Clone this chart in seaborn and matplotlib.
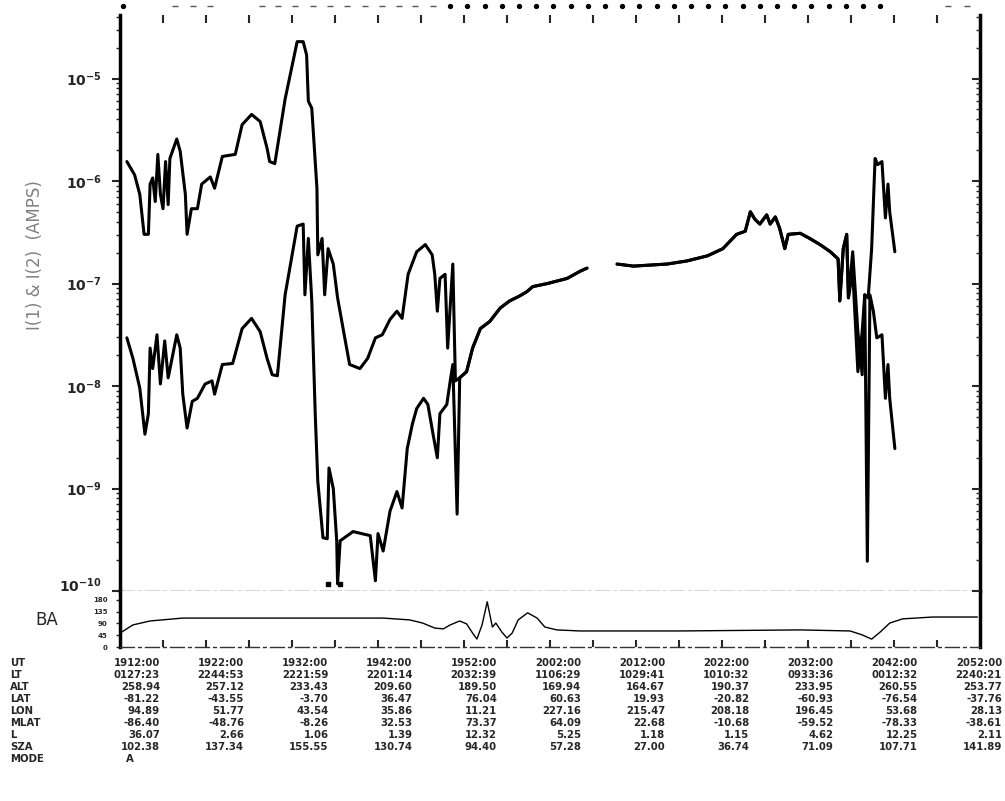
import numpy as np
import pandas as pd
import matplotlib
matplotlib.use("Agg")
import matplotlib.pyplot as plt
import matplotlib.transforms as mtransforms
from matplotlib.ticker import LogLocator, NullFormatter
import seaborn as sns

sns.set_style("white")
plt.rcParams["font.family"] = ["DejaVu Sans"]

# ---------------- data (time in minutes after 1912:00 UT, current as log10 amps) -------------
upper_a_t = [0.8, 1.7, 2.3, 2.8, 3.3, 3.5, 3.8, 4.1, 4.4, 4.7, 5.0, 5.3, 5.6, 5.8, 6.6, 7.0, 7.6,
             7.8, 8.3, 9.0, 9.5, 10.5, 11.0, 11.9, 13.4, 14.2, 15.3, 16.3, 17.1, 17.4, 18.0, 19.2,
             20.6, 21.3, 21.7, 21.9, 22.3, 22.9, 23.0, 23.5, 23.8, 24.2, 24.8, 25.3, 26.2, 26.7,
             27.9, 28.8, 29.7, 30.5, 31.4, 32.2, 32.8, 33.5, 34.5, 35.5, 36.3, 36.6, 36.9, 37.2,
             37.8, 38.1, 38.7, 39.0]
upper_a_exp = [-5.81, -5.94, -6.13, -6.52, -6.52, -6.03, -5.97, -6.20, -5.74, -6.13, -6.27, -5.81,
               -6.23, -5.78, -5.59, -5.71, -6.13, -6.52, -6.27, -6.27, -6.03, -5.96, -6.07, -5.76,
               -5.74, -5.45, -5.35, -5.42, -5.68, -5.81, -5.83, -5.20, -4.64, -4.64, -4.77, -5.22,
               -5.29, -6.07, -6.72, -6.56, -7.11, -6.66, -6.81, -7.14, -7.56, -7.79, -7.83, -7.73,
               -7.53, -7.50, -7.35, -7.27, -7.34, -6.91, -6.69, -6.62, -6.72, -6.91, -7.27, -6.95,
               -6.91, -7.63, -6.81, -7.95]

lower_a_t = [0.8, 1.5, 2.3, 2.9, 3.3, 3.5, 3.8, 4.3, 4.7, 5.2, 5.6, 6.6, 7.0, 7.3, 7.8, 8.4, 9.0,
             9.9, 10.7, 11.0, 11.9, 13.1, 14.2, 15.3, 16.3, 17.1, 17.7, 18.3, 19.2, 20.6, 21.3,
             21.5, 21.9, 22.3, 22.7, 23.0, 23.6, 24.1, 24.3, 24.8, 25.2, 25.3, 25.6, 27.1, 29.1,
             29.7, 30.0, 30.6, 31.4, 32.2, 32.8, 33.4, 34.0, 34.5, 35.3, 35.8, 36.4, 36.9, 37.2,
             38.0, 38.4, 38.7, 39.2]
lower_a_exp = [-7.53, -7.73, -8.02, -8.47, -8.27, -7.63, -7.83, -7.50, -7.98, -7.56, -7.92, -7.50,
               -7.63, -8.08, -8.41, -8.15, -8.12, -7.98, -7.95, -8.08, -7.79, -7.78, -7.44, -7.34,
               -7.47, -7.73, -7.89, -7.90, -7.11, -6.44, -6.42, -7.11, -6.56, -7.17, -8.27, -8.93,
               -9.48, -9.49, -8.80, -9.00, -9.51, -9.93, -9.51, -9.42, -9.46, -9.90, -9.44, -9.61,
               -9.22, -9.03, -9.19, -8.61, -8.37, -8.22, -8.12, -8.18, -8.47, -8.70, -8.27, -8.18,
               -7.95, -7.79, -9.25]

merged_a_t = [39.5, 40.3, 41.0, 41.9, 43.0, 44.2, 45.3, 46.5, 47.3, 48.0, 49.7, 52.0, 53.5, 54.3]
merged_a_exp = [-7.92, -7.86, -7.63, -7.44, -7.37, -7.24, -7.17, -7.12, -7.08, -7.03, -7.00,
                -6.95, -6.88, -6.85]

merged_b_t = [57.8, 59.7, 63.6, 65.9, 68.3, 70.1, 71.7, 72.7, 73.3, 73.8, 74.4, 75.2, 75.6, 76.2,
              76.7, 77.3, 77.7, 79.1, 80.2, 81.4, 82.6, 83.5, 83.7, 84.1, 84.5, 84.7]
merged_b_exp = [-6.81, -6.83, -6.81, -6.78, -6.73, -6.66, -6.52, -6.49, -6.30, -6.37, -6.42,
                -6.33, -6.42, -6.35, -6.46, -6.66, -6.52, -6.51, -6.56, -6.62, -6.69, -6.76,
                -7.17, -6.66, -6.52, -7.14]

upper_b_t = [85.2, 85.8, 86.3, 86.6, 87.0, 87.4, 87.8, 88.1, 88.6, 89.0, 89.3, 89.5, 90.1]
upper_b_exp = [-6.69, -7.47, -7.89, -7.11, -7.14, -6.66, -5.78, -5.84, -5.81, -6.36, -6.03,
               -6.30, -6.69]

lower_b_t = [85.2, 85.8, 86.3, 86.6, 86.9, 87.2, 87.6, 88.0, 88.6, 89.0, 89.3, 89.5, 90.1]
lower_b_exp = [-6.88, -7.86, -7.47, -7.11, -9.71, -7.11, -7.27, -7.53, -7.50, -8.12, -7.79,
               -8.12, -8.61]

floor_dot_t = [24.2, 25.6]
floor_dot_exp = [-9.93, -9.93]

# BA (degrees)
ba_t = [0.2, 1.5, 3.5, 7.3, 30.6, 33.7, 35.2, 36.6, 37.6, 38.4, 39.5, 40.3, 41.0, 41.5, 42.1,
        42.7, 43.3, 43.7, 44.4, 45.0, 45.6, 46.3, 47.4, 48.5, 49.4, 50.8, 53.5, 57.3, 65.1,
        79.1, 84.9, 86.3, 87.4, 88.4, 89.5, 91.0, 94.5, 99.7]
ba_deg = [57, 84, 99, 110, 110, 103, 91, 72, 69, 84, 99, 88, 53, 30, 84, 172, 76, 91, 57, 34,
          53, 103, 130, 110, 76, 65, 61, 61, 61, 65, 61, 46, 30, 57, 91, 107, 114, 114]

# telemetry marks along the top
top_dot_t = [0.3, 38.4, 40.4, 42.4, 44.4, 46.4, 48.4, 50.4, 52.4, 54.4, 56.4, 58.4, 60.4, 62.4,
             64.4, 66.4, 68.4, 70.4, 72.4, 74.4, 76.4, 78.4, 80.4, 82.4, 84.4, 86.4, 88.4]
top_dash_t = [6.4, 8.5, 10.5, 16.5, 18.4, 20.3, 22.4, 24.4, 26.4, 28.5, 30.5, 32.4, 34.3, 36.4,
              96.3, 98.5]

ytick_exp = [-5, -6, -7, -8, -9, -10]
ba_ticks = [0, 45, 90, 135, 180]

row_names = ["UT", "LT", "ALT", "LAT", "LON", "MLAT", "L", "SZA", "MODE"]
ut_vals = ["1912:00", "1922:00", "1932:00", "1942:00", "1952:00", "2002:00", "2012:00",
           "2022:00", "2032:00", "2042:00", "2052:00"]
lt_vals = ["0127:23", "2244:53", "2221:59", "2201:14", "2032:39", "1106:29", "1029:41",
           "1010:32", "0933:36", "0012:32", "2240:21"]
alt_vals = ["258.94", "257.12", "233.43", "209.60", "189.50", "169.94", "164.67", "190.37",
            "233.95", "260.55", "253.77"]
lat_vals = ["-81.22", "-43.55", "-3.70", "36.47", "76.04", "60.63", "19.93", "-20.82",
            "-60.93", "-76.54", "-37.76"]
lon_vals = ["94.89", "51.77", "43.54", "35.86", "11.21", "227.16", "215.47", "208.18",
            "196.45", "53.68", "28.13"]
mlat_vals = ["-86.40", "-48.76", "-8.26", "32.53", "73.37", "64.09", "22.68", "-10.68",
             "-59.52", "-78.33", "-38.61"]
l_vals = ["36.07", "2.66", "1.06", "1.39", "12.32", "5.25", "1.18", "1.15", "4.62", "12.25",
          "2.11"]
sza_vals = ["102.38", "137.34", "155.55", "130.74", "94.40", "57.28", "27.00", "36.74",
            "71.09", "107.71", "141.89"]
mode_vals = ["A"]

# ---------------- build frames -------------
def seg(t, e, name):
    return pd.DataFrame({"t": t, "amps": np.power(10.0, np.array(e)), "seg": name})

curves = pd.concat([
    seg(upper_a_t + merged_a_t, upper_a_exp + merged_a_exp, "I1a"),
    seg(merged_b_t + upper_b_t, merged_b_exp + upper_b_exp, "I1b"),
    seg(lower_a_t + merged_a_t, lower_a_exp + merged_a_exp, "I2a"),
    seg(merged_b_t + lower_b_t, merged_b_exp + lower_b_exp, "I2b"),
], ignore_index=True)
ba_df = pd.DataFrame({"t": ba_t, "ba": ba_deg})

# ---------------- figure -------------
W, H = 1005, 801
fig = plt.figure(figsize=(W / 100, H / 100), dpi=100)
L, R = 120, 980
top_px, mid_px, bot_px = 15, 591, 647
ax = fig.add_axes([L / W, 1 - mid_px / H, (R - L) / W, (mid_px - top_px) / H])
bax = fig.add_axes([L / W, 1 - bot_px / H, (R - L) / W, (bot_px - mid_px) / H])

sns.lineplot(data=curves, x="t", y="amps", units="seg", estimator=None, sort=False,
             color="black", lw=2.2, ax=ax, legend=False)
ax.plot(floor_dot_t, np.power(10.0, np.array(floor_dot_exp)), "s", color="black", ms=3.5)

ax.set_yscale("log")
ax.set_xlim(0, 100)
ax.set_ylim(1e-10, 10 ** -4.38)
ax.set_xlabel("")
ax.set_ylabel("")
ax.set_yticks([10.0 ** e for e in ytick_exp])
ax.set_yticklabels([r"$\mathbf{10^{%d}}$" % e for e in ytick_exp], fontsize=10)
ax.yaxis.set_minor_locator(LogLocator(base=10, subs=np.arange(2, 10)))
ax.yaxis.set_minor_formatter(NullFormatter())
ax.tick_params(axis="y", which="major", direction="out", length=6, width=1.5, pad=7, left=True)
ax.tick_params(axis="y", which="minor", direction="out", length=3, width=1.0, left=True)
# lift the bottom decade label a little so it clears the BA scale
for lab in ax.get_yticklabels():
    if lab.get_text().find("{-10}") >= 0:
        lab.set_transform(lab.get_transform() +
                          mtransforms.ScaledTranslation(0, 5 / 72, fig.dpi_scale_trans))
ax.set_xticks(np.arange(5, 100, 5))
ax.xaxis.set_ticks_position("top")
ax.tick_params(axis="x", direction="in", length=6, width=1.5, labeltop=False, labelbottom=False,
               top=True, bottom=False)
ax.spines["top"].set_visible(False)
for s in ("left", "right"):
    ax.spines[s].set_linewidth(2.5)
    ax.spines[s].set_color("black")
ax.spines["bottom"].set_linewidth(1.0)
ax.spines["bottom"].set_color("#333333")
ax.spines["bottom"].set_linestyle((0, (10, 3, 2, 3)))

# right-side inward ticks
tw = ax.twinx()
tw.set_yscale("log")
tw.set_ylim(ax.get_ylim())
tw.set_yticks([10.0 ** e for e in ytick_exp])
tw.yaxis.set_minor_locator(LogLocator(base=10, subs=np.arange(2, 10)))
tw.yaxis.set_minor_formatter(NullFormatter())
tw.tick_params(axis="y", which="major", direction="in", length=6, width=1.5, labelright=False)
tw.tick_params(axis="y", which="minor", direction="in", length=3, width=1.0)
for s in tw.spines.values():
    s.set_visible(False)

# telemetry marks above the plot
trans = mtransforms.blended_transform_factory(ax.transData, ax.transAxes)
ax.plot(top_dot_t, [1.016] * len(top_dot_t), "o", color="black", ms=2.8, transform=trans,
        clip_on=False)
ax.plot(top_dash_t, [1.016] * len(top_dash_t), "_", color="#555555", ms=4, mew=1,
        transform=trans, clip_on=False)

# BA panel
sns.lineplot(data=ba_df, x="t", y="ba", estimator=None, sort=False, color="black", lw=1.0,
             ax=bax, legend=False)
bax.set_xlim(0, 100)
bax.set_ylim(0, 213)
bax.set_xlabel("")
bax.set_ylabel("")
bax.set_yticks(ba_ticks)
bax.set_yticklabels([str(v) for v in ba_ticks], fontsize=5, fontweight="bold")
bax.tick_params(axis="y", direction="out", length=3, width=1.0, pad=6, left=True)
bax.set_xticks(np.arange(5, 100, 5))
bax.tick_params(axis="x", direction="in", length=5, width=1.5, labelbottom=False, bottom=True)
bax.spines["top"].set_visible(False)
for s in ("left", "right"):
    bax.spines[s].set_linewidth(2.5)
    bax.spines[s].set_color("black")
bax.spines["bottom"].set_linewidth(1.0)
bax.spines["bottom"].set_color("#333333")
bax.spines["bottom"].set_linestyle((0, (10, 3, 2, 3)))

# labels
fig.text(35 / W, 1 - 255 / H, "I(1) & I(2)  (AMPS)", rotation=90, fontsize=12,
         color="#808080", ha="center", va="center")
fig.text(47 / W, 1 - 620 / H, "BA", fontsize=12, ha="center", va="center")

# data table
rows = [ut_vals, lt_vals, alt_vals, lat_vals, lon_vals, mlat_vals, l_vals, sza_vals]
row_y = [663, 675, 687, 699, 711, 723, 735, 747, 759]
tfont = dict(family="DejaVu Sans", fontweight="bold", fontsize=7.3, va="center")
for name, y in zip(row_names, row_y):
    fig.text(10 / W, 1 - y / H, name, ha="left", **tfont)
for vals, y in zip(rows, row_y):
    for i, v in enumerate(vals):
        fig.text((160 + 84.2 * i) / W, 1 - y / H, v, ha="right", **tfont)
fig.text(126 / W, 1 - row_y[-1] / H, mode_vals[0], ha="left", **tfont)

fig.savefig("out.png", dpi=100)
